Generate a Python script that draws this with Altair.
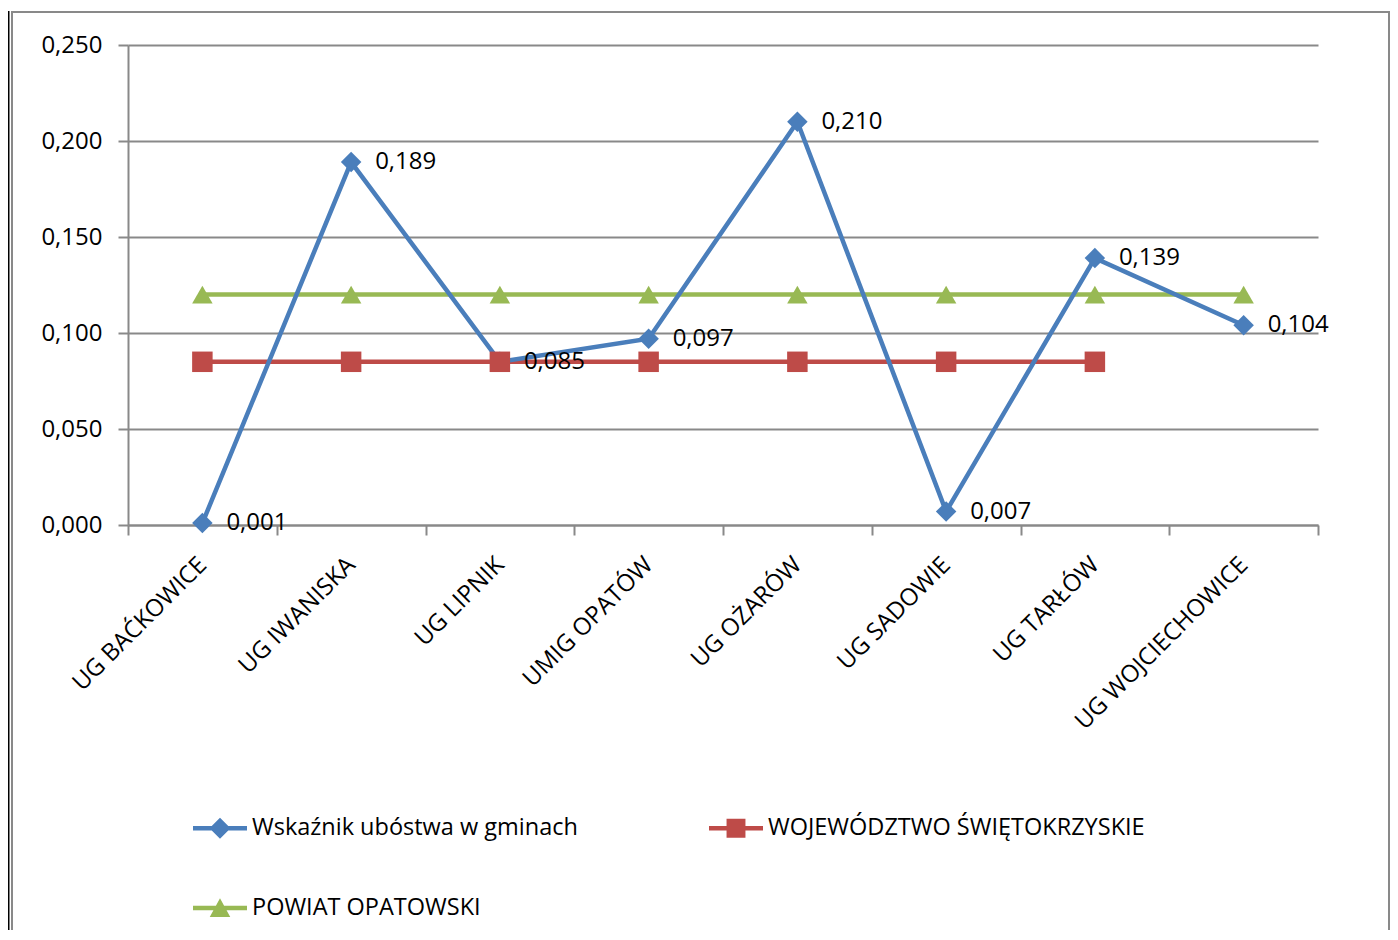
import altair as alt
import pandas as pd

FONT = "Open Sans"
GRAY = "#898989"

categories = ["UG BAĆKOWICE", "UG IWANISKA", "UG LIPNIK", "UMIG OPATÓW",
              "UG OŻARÓW", "UG SADOWIE", "UG TARŁÓW", "UG WOJCIECHOWICE"]
gminy = [0.001, 0.189, 0.085, 0.097, 0.210, 0.007, 0.139, 0.104]
wojewodztwo = [0.085, 0.085, 0.085, 0.085, 0.085, 0.085, 0.085]
powiat = [0.120, 0.120, 0.120, 0.120, 0.120, 0.120, 0.120, 0.120]
series_names = ["Wskaźnik ubóstwa w gminach", "WOJEWÓDZTWO ŚWIĘTOKRZYSKIE", "POWIAT OPATOWSKI"]
colors = ["#4A7EBB", "#BE4B48", "#98B954"]
marker_shapes = ["diamond", "square", "triangle-up"]
y_ticks = [0.0, 0.05, 0.10, 0.15, 0.20, 0.25]

# legend symbols: line segment + marker (unit coordinates -1..1)
legend_paths = [
    "M-1,-0.085H1V0.085H-1Z M0,-0.39L0.39,0L0,0.39L-0.39,0Z",
    "M-1,-0.085H1V0.085H-1Z M-0.35,-0.35H0.35V0.35H-0.35Z",
    "M-1,-0.085H1V0.085H-1Z M0,-0.36L0.38,0.33H-0.38Z",
]

rows = []
for name, vals in zip(series_names, [gminy, wojewodztwo, powiat]):
    for cat, v in zip(categories, vals):
        rows.append({"series": name, "category": cat, "value": v,
                     "label": f"{v:.3f}".replace(".", ",")})
df = pd.DataFrame(rows)

W, H = 1190, 480

x_enc = alt.X(
    "category:N",
    sort=categories,
    scale=alt.Scale(type="band", domain=categories, paddingInner=0, paddingOuter=0),
    axis=alt.Axis(
        title=None, labelAngle=-45, labelAlign="right", labelBaseline="middle",
        labelFont=FONT, labelFontSize=24, labelColor="black", labelLimit=500,
        labelPadding=26, tickBand="extent", tickSize=10, tickColor=GRAY, tickWidth=2,
        domainColor=GRAY, domainWidth=2, grid=False,
    ),
)
y_enc = alt.Y(
    "value:Q",
    scale=alt.Scale(domain=[0, 0.25], nice=False, zero=True),
    axis=alt.Axis(
        title=None, values=y_ticks,
        labelExpr="replace(format(datum.value, '.3f'), '.', ',')",
        labelFont=FONT, labelFontSize=24, labelColor="black", labelPadding=16,
        tickSize=10, tickColor=GRAY, tickWidth=2, domainColor=GRAY, domainWidth=2,
        grid=True, gridColor=GRAY, gridWidth=2,
    ),
)
color_enc = alt.Color("series:N", scale=alt.Scale(domain=series_names, range=colors), legend=None)

base = alt.Chart(df)

line_layers = []
for name in [series_names[2], series_names[1], series_names[0]]:
    line_layers.append(
        base.transform_filter(alt.datum.series == name)
        .mark_line(strokeWidth=4.5)
        .encode(x=x_enc, y=y_enc, color=color_enc)
    )

points = base.mark_point(filled=True, opacity=1, size=420).encode(
    x=x_enc, y=y_enc, color=color_enc,
    shape=alt.Shape("series:N", scale=alt.Scale(domain=series_names, range=marker_shapes), legend=None),
)

labels = base.transform_filter(alt.datum.series == series_names[0]).mark_text(
    align="left", baseline="middle", dx=24, font=FONT, fontSize=24, color="black"
).encode(x=x_enc, y=y_enc, text="label:N")

legend_df = pd.DataFrame({"lg": series_names})
leg = alt.Legend(
    title=None, orient="none", direction="horizontal", legendX=65, legendY=756,
    columns=2, padding=0, values=series_names,
    symbolSize=2916, symbolOpacity=1, symbolStrokeWidth=0,
    labelFont=FONT, labelFontSize=23.5, labelColor="black", labelOffset=5, labelLimit=1000,
    columnPadding=131, rowPadding=41,
)
legend_layer = alt.Chart(legend_df).mark_point(filled=True, opacity=0).encode(
    color=alt.Color("lg:N", scale=alt.Scale(domain=series_names, range=colors), legend=leg),
    shape=alt.Shape("lg:N", scale=alt.Scale(domain=series_names, range=legend_paths), legend=leg),
)

one = alt.Data(values=[{"k": 1}])
frame = alt.Chart(one).mark_rect(filled=False, stroke=GRAY, strokeWidth=2).encode(
    x=alt.value(-116), x2=alt.value(1261), y=alt.value(-33), y2=alt.value(940)
)
black_rule = alt.Chart(one).mark_rule(color="black", strokeWidth=2).encode(
    x=alt.value(-119.5), y=alt.value(-34), y2=alt.value(940)
)

chart = alt.layer(
    frame, black_rule, *line_layers, points, labels, legend_layer
).resolve_scale(
    color="independent", shape="independent"
).properties(
    width=W, height=H,
    autosize=alt.AutoSizeParams(type="none"),
    padding={"left": 120, "top": 37, "right": 72, "bottom": 405},
    background="white",
).configure_view(stroke=None)

chart.save("out.html", embed_options={"renderer": "svg", "actions": False})
